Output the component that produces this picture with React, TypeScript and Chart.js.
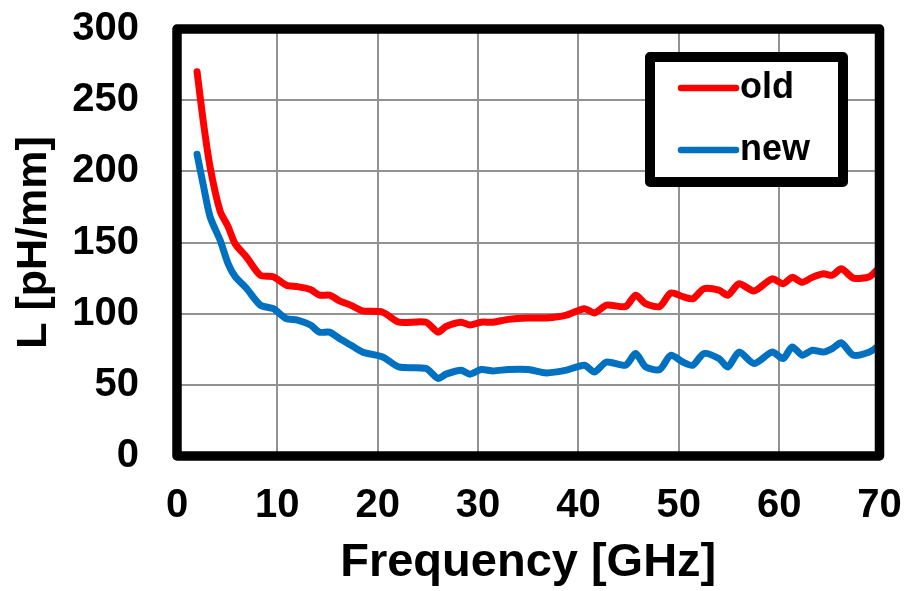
import React, { useEffect, useRef } from "react";
import { Chart, registerables } from "chart.js";

Chart.register(...registerables);

const frequency = [
  2, 2.6, 3.3, 4.3, 5.1, 5.8, 6.9, 8.3, 9.6, 10.9, 12, 13.3, 14.2, 15.2, 16.2, 17.3, 18.5, 20.5,
  22.1, 24.8, 26, 26.8, 28.3, 29.2, 30.3, 31.5, 33, 35, 36.8, 38.8, 40.6, 41.6, 42.8, 44.7, 45.7,
  46.7, 48.1, 49.2, 50.4, 51.4, 52.5, 54, 54.9, 56, 57.5, 59.3, 60.4, 61.3, 62.3, 63.3, 64.4, 65.3,
  66.2, 67.4, 69, 70,
];

const oldL = [
  270, 236, 203, 172, 161, 149, 140, 127, 126, 120, 119, 117, 113, 113, 109, 106, 102, 101,
  94, 94, 87, 91, 94, 92, 94, 94, 96, 97, 97, 99, 103.5, 100.5, 106, 105, 113,
  107, 105, 114.5, 112, 110.5, 117.5, 116.5, 113, 121, 116, 124.5, 121, 125.5, 122, 125.5, 128, 127,
  131.5, 125, 126, 132.5,
];

const newL = [
  212, 191, 168, 151.5, 135, 126, 118, 106, 103.5, 96.5, 95.5, 92, 87, 87, 82.5, 78, 73, 69.6,
  62.6, 61.5, 54.5, 57.5, 60.3, 57.5, 60.8, 59.8, 60.8, 60.8, 58.4, 60.3, 63.8, 59, 66, 63.8, 72,
  62.6, 60.8, 70.8, 66, 63.8, 72, 68.5, 62.6, 73, 65, 73, 68.5, 76.6, 70.8, 74.3, 73, 75.5,
  79.5, 70.8, 73, 77.8,
];

const seriesLabels = ["old", "new"];
const seriesColors = ["#FF0000", "#0070C0"];

const FONT = "'Liberation Sans', Arial, Helvetica, sans-serif";

const frameAndLegend = {
  id: "frameAndLegend",
  afterDatasetsDraw(chart: any) {
    const { ctx, chartArea } = chart;
    ctx.save();
    ctx.strokeStyle = "#000";
    ctx.lineWidth = 9.5;
    ctx.lineJoin = "round";
    ctx.strokeRect(
      chartArea.left,
      chartArea.top,
      chartArea.right - chartArea.left,
      chartArea.bottom - chartArea.top
    );
    const bx = 650, by = 57, bw = 193, bh = 125;
    ctx.fillStyle = "#fff";
    ctx.fillRect(bx, by, bw, bh);
    ctx.lineWidth = 10;
    ctx.strokeRect(bx, by, bw, bh);
    const rows = [88, 150];
    chart.data.datasets.forEach((ds: any, i: number) => {
      const y = rows[i];
      ctx.beginPath();
      ctx.strokeStyle = ds.borderColor;
      ctx.lineWidth = 6.5;
      ctx.lineCap = "round";
      ctx.moveTo(681, y);
      ctx.lineTo(736, y);
      ctx.stroke();
      ctx.fillStyle = "#000";
      ctx.font = `bold 36px ${FONT}`;
      ctx.textBaseline = "middle";
      ctx.textAlign = "left";
      ctx.fillText(ds.label, 740, y);
    });
    ctx.restore();
  },
};

const zeroPad = (s: any) => {
  s.paddingTop = 0;
  s.paddingBottom = 0;
  s.paddingLeft = 0;
  s.paddingRight = 0;
};

export default function App() {
  const canvasRef = useRef<HTMLCanvasElement | null>(null);

  useEffect(() => {
    const canvas = canvasRef.current;
    if (!canvas) return;
    const datasets = [oldL, newL].map((vals, i) => ({
      label: seriesLabels[i],
      data: frequency.map((f, j) => ({ x: f, y: vals[j] })),
      borderColor: seriesColors[i],
      backgroundColor: seriesColors[i],
      borderWidth: 7,
      pointRadius: 0,
      tension: 0.25,
      borderCapStyle: "round" as const,
      borderJoinStyle: "round" as const,
      fill: false,
    }));
    const chart = new Chart(canvas, {
      type: "line",
      data: { datasets },
      options: {
        responsive: false,
        animation: false,
        layout: { padding: { left: 0, top: 29, right: 25.5, bottom: 0 } },
        plugins: { legend: { display: false }, tooltip: { enabled: false } },
        scales: {
          x: {
            type: "linear",
            min: 0,
            max: 70,
            afterFit: (s: any) => {
              s.height = 135;
              zeroPad(s);
            },
            ticks: {
              stepSize: 10,
              color: "#000",
              padding: 26,
              font: { family: FONT, size: 40, weight: "bold" },
            },
            grid: { color: "#929292", lineWidth: 2, drawTicks: false },
            border: { display: false },
            title: {
              display: true,
              text: "Frequency [GHz]",
              color: "#000",
              padding: 0,
              font: { family: FONT, size: 47, weight: "bold" },
            },
          },
          y: {
            min: 0,
            max: 300,
            afterFit: (s: any) => {
              s.width = 177;
              zeroPad(s);
            },
            ticks: {
              stepSize: 50,
              color: "#000",
              padding: 38,
              font: { family: FONT, size: 40, weight: "bold" },
            },
            grid: { color: "#929292", lineWidth: 2, drawTicks: false },
            border: { display: false },
            title: {
              display: true,
              text: "L [pH/mm]",
              color: "#000",
              padding: { top: 8, bottom: 0 },
              font: { family: FONT, size: 43, weight: "bold" },
            },
          },
        },
      },
      plugins: [frameAndLegend],
    });
    return () => chart.destroy();
  }, []);

  return (
    <div style={{ position: "absolute", left: 0, top: 0, width: 905, height: 591, background: "#fff" }}>
      <canvas ref={canvasRef} width={905} height={591} />
    </div>
  );
}
